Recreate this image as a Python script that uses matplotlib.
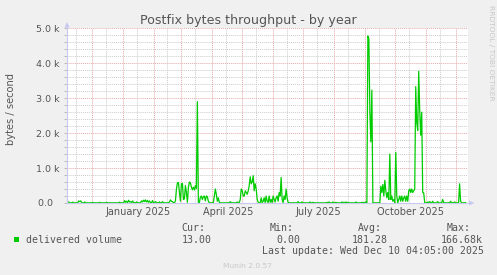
import matplotlib
matplotlib.use("Agg")
import matplotlib.pyplot as plt
import pandas as pd
import numpy as np
from matplotlib.patches import Rectangle, Polygon
from matplotlib.lines import Line2D

# ---------------- data ----------------
start_date = "2024-11-07"          # first daily sample
delivered = [
    # Nov 2024 - Feb 2025 (quiet period)
    30, 30, 5, 5, 5, 25, 5, 5, 5, 5,
    10, 60, 40, 60, 5, 5, 5, 30, 5, 5,
    5, 5, 5, 5, 5, 20, 5, 5, 5, 5,
    5, 5, 20, 5, 5, 5, 5, 5, 5, 20,
    5, 5, 5, 5, 5, 5, 5, 5, 5, 5,
    5, 5, 25, 5, 5, 5, 5, 70, 20, 50,
    10, 80, 30, 40, 10, 60, 5, 10, 5, 30,
    5, 5, 5, 10, 60, 30, 80, 40, 90, 30,
    70, 20, 60, 10, 5, 70, 10, 5, 40, 10,
    5, 5, 30, 5, 5, 40, 5, 5, 5, 5,
    5,
    5, 30, 90, 50, 40, 10, 5, 60, 400, 580,
    590, 300, 50, 550, 560, 100, 120, 500, 300, 20,
    450, 600, 580, 450, 380, 450, 370, 500, 420, 2900,
    20, 10, 170, 200, 100, 180, 200, 60, 200, 180,
    50, 10, 5, 5, 5, 5, 200, 400, 250, 50,
    150, 20, 5, 5, 5, 5, 5, 5, 5, 5,
    5, 5, 40, 5, 5, 5, 5, 5, 5, 30,
    5, 10, 100, 400, 350, 200, 200, 350, 300, 250,
    350, 500, 750, 550, 600, 780, 350, 550, 400, 100,
    20, 5, 5, 150, 10, 50, 150, 10, 200, 50,
    10, 200, 20, 100, 10, 200, 100, 30, 150, 200,
    50, 300, 200, 730, 100, 10, 200, 100, 400, 150,
    20, 5, 5, 5, 5, 5, 5, 5, 5, 5,
    40, 5, 5, 5, 30, 5, 5, 5, 5, 5,
    5, 5, 30, 5, 5, 20, 5, 5, 5, 5,
    5, 5, 5, 5, 5, 5, 5, 5, 5, 20,
    5, 30, 5, 5, 5, 30, 5, 5, 20, 5,
    5, 5, 5, 5, 30, 5, 20, 5, 30, 5,
    20, 5, 5, 5, 5, 5, 5, 5, 30, 5,
    5, 5, 5, 5, 20, 5, 20, 5, 30, 5,
    4780, 4700, 2600, 1750, 3230, 10, 5, 5, 5, 5,
    5, 5, 5, 480, 300, 530, 200, 650, 350, 150,
    300, 100, 1400, 100, 200, 50, 100, 5, 1450, 200,
    5, 100, 200, 50, 200, 50, 150, 200, 50, 200,
    50, 350, 400, 300, 400, 300, 350, 400, 3330, 2300,
    2080, 3770, 2650, 1940, 2600, 300, 290, 10, 5, 5,
    30, 5, 40, 5, 5, 50, 5, 5, 5, 5,
    40, 5, 5, 5, 5, 100, 5, 5, 5, 5,
    5, 5, 5, 50, 5, 5, 5, 30, 5, 5,
    5, 5, 550, 50, 5, 5, 5, 5, 13,
]

title = "Postfix bytes throughput - by year"
y_label = "bytes / second"
y_ticks = [0, 1000, 2000, 3000, 4000, 5000]
y_tick_labels = ["0.0  ", "1.0 k", "2.0 k", "3.0 k", "4.0 k", "5.0 k"]
x_tick_dates = ["2025-01-16 12:00", "2025-04-16 12:00", "2025-07-16 12:00", "2025-10-16 12:00"]
x_tick_labels = ["January 2025", "April 2025", "July 2025", "October 2025"]
legend_label = "delivered volume"
stat_names = ["Cur:", "Min:", "Avg:", "Max:"]
stat_values = ["13.00", "0.00", "181.28", "166.68k"]
last_update = "Last update: Wed Dec 10 04:05:00 2025"
watermark = "RRDTOOL / TOBI OETIKER"
footer = "Munin 2.0.57"

# ---------------- layout ----------------
W, H = 497, 275
BG = "#f0f0f0"
TXT = "#555555"
GREEN = "#00cc00"
AXIS_C = "#c8c8f0"
RED_GRID = "#e7a8a8"
GRAY_GRID = "#cccccc"
MONO = "DejaVu Sans Mono"

fig = plt.figure(figsize=(W / 100, H / 100), dpi=100, facecolor=BG)
L, R, T, B = 67, 468, 28.3, 203
ax = fig.add_axes([L / W, 1 - B / H, (R - L) / W, (B - T) / H])
ax.set_facecolor("white")
for s in ax.spines.values():
    s.set_visible(False)

dates = pd.date_range(start_date, periods=len(delivered), freq="D")
ax.plot(dates, delivered, color=GREEN, lw=0.9, zorder=3)

x0 = pd.Timestamp("2024-11-06 05:30")
ax.set_xlim(x0, x0 + pd.Timedelta(days=402.2))
ax.set_ylim(0, 5000)

# horizontal grid
ax.set_yticks(y_ticks)
ax.set_yticklabels(y_tick_labels)
ax.set_yticks(np.arange(0, 5001, 200), minor=True)
ax.set_axisbelow(True)
dot = (0, (1, 1))
ax.grid(axis="y", which="minor", color=GRAY_GRID, ls=dot, lw=0.7)
ax.grid(axis="y", which="major", color=RED_GRID, ls=dot, lw=0.7)

# vertical grid (month starts red, mid-month gray)
month_starts = pd.date_range("2024-12-01", "2025-12-01", freq="MS")
mid_months = pd.date_range("2024-11-01", "2025-11-01", freq="MS") + pd.Timedelta(days=14)
ax.vlines(mid_months, 0, 1, transform=ax.get_xaxis_transform(), colors=GRAY_GRID,
          linestyles=dot, lw=0.7, zorder=1)
ax.vlines(month_starts, 0, 1, transform=ax.get_xaxis_transform(), colors=RED_GRID,
          linestyles=dot, lw=0.7, zorder=1)

ax.set_xticks(pd.to_datetime(x_tick_dates))
ax.set_xticklabels(x_tick_labels)
ax.tick_params(axis="x", length=0, pad=2.7, labelsize=7, labelcolor=TXT)
ax.tick_params(axis="y", which="both", length=2, width=0.7, color="#bbbbbb",
               pad=3.5, labelsize=6.8, labelcolor=TXT)

# axis lines with arrows (figure pixel coords)
def px(x, y):
    return (x / W, 1 - y / H)

fig.add_artist(Line2D([L / W, L / W], [1 - B / H, 1 - 26 / H], color=AXIS_C, lw=0.8))
fig.add_artist(Line2D([L / W, 470 / W], [1 - B / H, 1 - B / H], color=AXIS_C, lw=0.8))
fig.add_artist(Polygon([px(64.5, 27.5), px(69.5, 27.5), px(67, 22)], closed=True,
                       facecolor=AXIS_C, edgecolor="none"))
fig.add_artist(Polygon([px(469, 200.5), px(469, 205.5), px(474.5, 203)], closed=True,
                       facecolor=AXIS_C, edgecolor="none"))

# texts
fig.text(248 / W, 1 - 23.7 / H, title, ha="center", va="baseline", fontsize=9.1, color=TXT)
fig.text(11.5 / W, 1 - 109 / H, y_label, ha="center", va="center", rotation=90,
         fontsize=7.1, color=TXT)
fig.text(491 / W, 1 - 53 / H, watermark, ha="center", va="center", rotation=270,
         fontsize=5.4, color="#c8c8c8")

# legend
fig.add_artist(Rectangle(px(14, 242), 5.3 / W, 5.3 / H, facecolor=GREEN, edgecolor="none"))
fig.text(26 / W, 1 - 243.3 / H, legend_label, ha="left", va="baseline", fontsize=7.1,
         family=MONO, color=TXT)

name_x = [181.5, 270, 358, 446.7]
value_x = [181.5, 276, 352, 441]
for nx, vx, n, v in zip(name_x, value_x, stat_names, stat_values):
    fig.text(nx / W, 1 - 231 / H, n, ha="left", va="baseline", fontsize=7.1, family=MONO, color=TXT)
    fig.text(vx / W, 1 - 243 / H, v, ha="left", va="baseline", fontsize=7.1, family=MONO, color=TXT)
fig.text(261.7 / W, 1 - 254.5 / H, last_update, ha="left", va="baseline", fontsize=7.1,
         family=MONO, color=TXT)
fig.text(247.5 / W, 1 - 267.5 / H, footer, ha="center", va="baseline", fontsize=5.4,
         color="#c8c8c8")

fig.savefig("out.png", dpi=100, facecolor=BG)
